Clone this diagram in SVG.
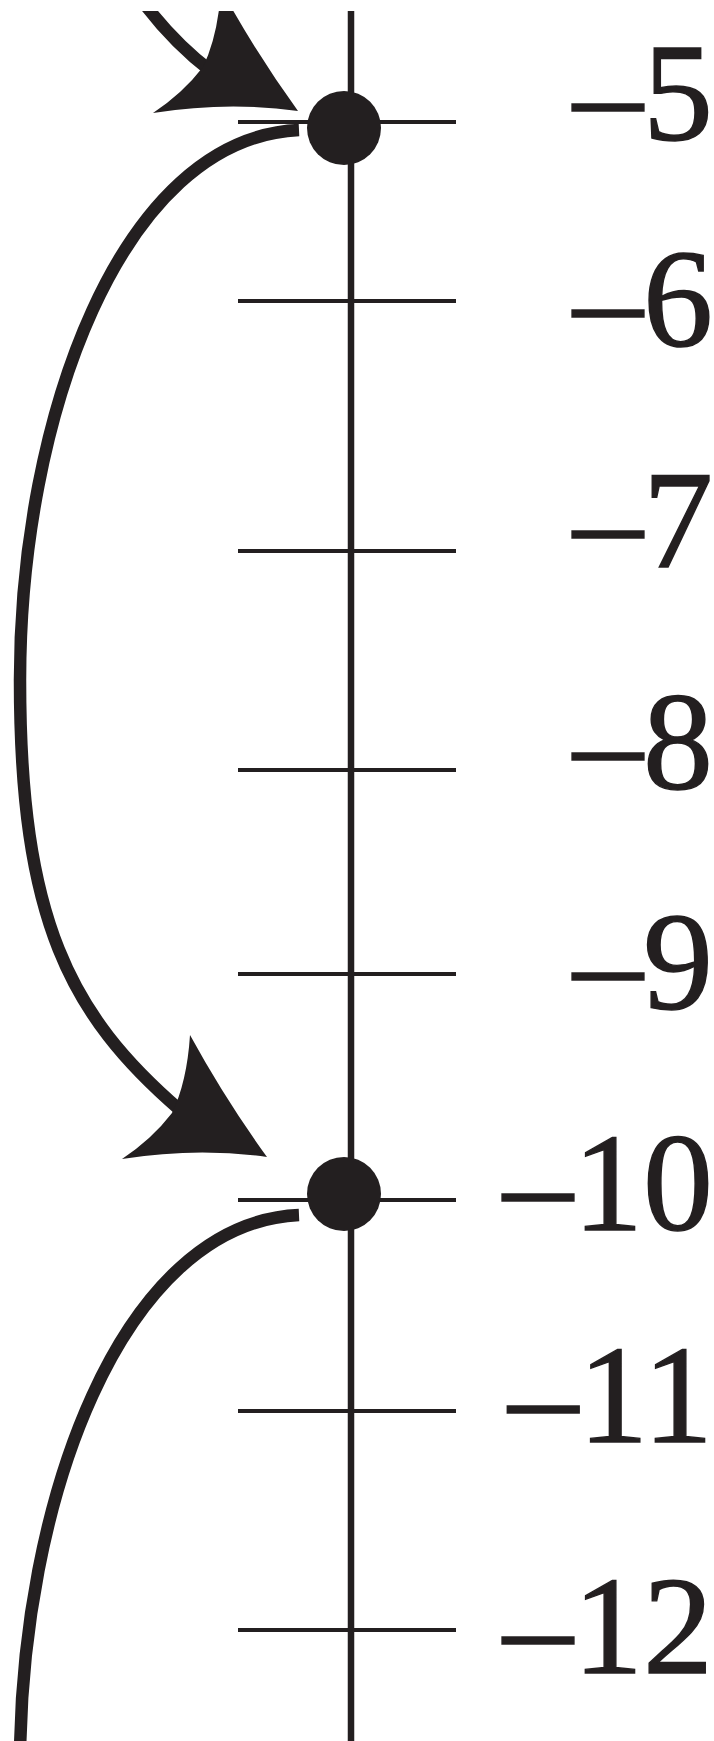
<svg xmlns="http://www.w3.org/2000/svg" xmlns:xlink="http://www.w3.org/1999/xlink" width="714" height="1741" viewBox="0 0 714 1741">
  <style>
    .axis { stroke: #231f20; stroke-width: 6.5; fill: none; }
    .tick { stroke: #231f20; stroke-width: 4; fill: none; }
    .arc { stroke: #231f20; stroke-width: 12.5; fill: none; stroke-linecap: butt; }
    .dot { fill: #231f20; }
    .head { fill: #231f20; }
    .lbl { font-family: "Liberation Serif", "Times New Roman", serif; font-size: 140px; fill: #231f20; stroke: #231f20; stroke-width: 1.4; text-anchor: end; }
  </style>
  <defs>
    <clipPath id="frame"><rect x="0" y="11" width="714" height="1730"/></clipPath>
    <path id="arrowhead" d="M 0 0 Q -42 -58 -77 -122 Q -80 -75 -95 -44 Q -115 -18 -145 2 Q -70 -10 0 0 Z"/>
  </defs>
  <rect x="0" y="0" width="714" height="1741" fill="#ffffff"/>
  <g clip-path="url(#frame)">
    <g id="axis">
      <line class="axis" x1="351" y1="11" x2="351" y2="1741"/>
      <line class="tick" x1="238" y1="122" x2="456" y2="122"/>
      <line class="tick" x1="238" y1="301" x2="456" y2="301"/>
      <line class="tick" x1="238" y1="551" x2="456" y2="551"/>
      <line class="tick" x1="238" y1="770" x2="456" y2="770"/>
      <line class="tick" x1="238" y1="974" x2="456" y2="974"/>
      <line class="tick" x1="238" y1="1200" x2="456" y2="1200"/>
      <line class="tick" x1="238" y1="1411" x2="456" y2="1411"/>
      <line class="tick" x1="238" y1="1630" x2="456" y2="1630"/>
    </g>
    <g id="labels">
      <text class="lbl" x="713" y="140">–5</text>
      <text class="lbl" x="713" y="346">–6</text>
      <text class="lbl" x="713" y="567">–7</text>
      <text class="lbl" x="713" y="789">–8</text>
      <text class="lbl" x="713" y="1009">–9</text>
      <text class="lbl" x="713" y="1230">–10</text>
      <text class="lbl" x="713" y="1442">–11</text>
      <text class="lbl" x="713" y="1673">–12</text>
    </g>
    <g id="connectors">
      <path class="arc" d="M 138 -5 Q 170 40 212 72"/>
      <path class="arc" d="M 299 130 C 120 138 20 420 20 680 C 20 920 70 1015 180 1110"/>
      <path class="arc" d="M 299 1215 C 120 1223 20 1505 20 1765"/>
      <use xlink:href="#arrowhead" class="head" transform="translate(298 111)"/>
      <use xlink:href="#arrowhead" class="head" transform="translate(267 1157)"/>
    </g>
    <g id="point-minus5">
      <circle class="dot" cx="344" cy="128" r="37"/>
    </g>
    <g id="point-minus10">
      <circle class="dot" cx="344" cy="1194" r="37"/>
    </g>
  </g>
</svg>
